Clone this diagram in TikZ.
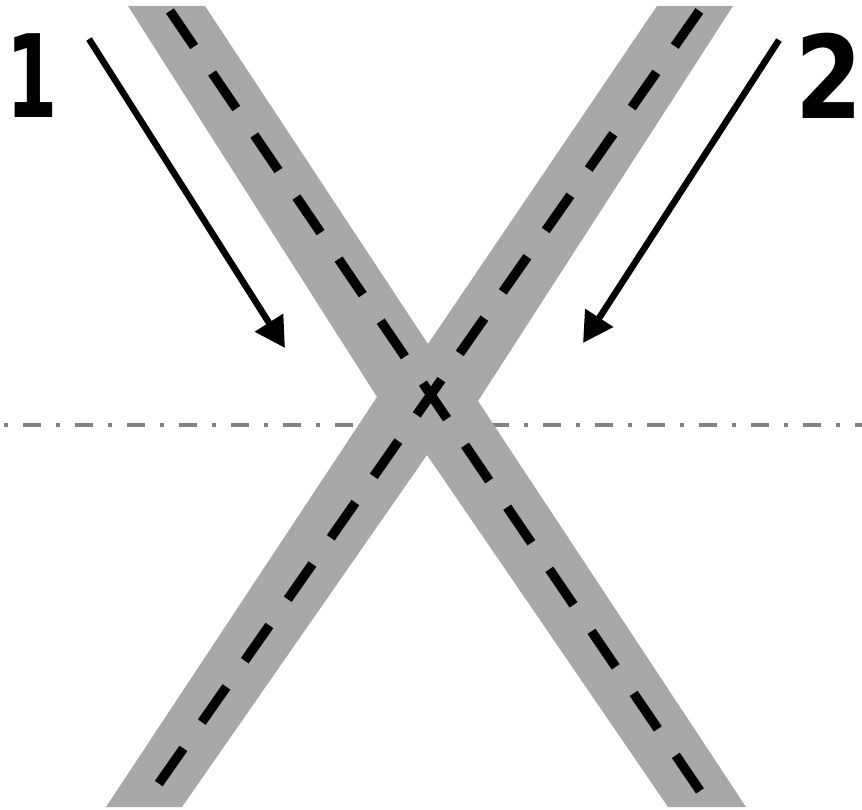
\documentclass[tikz,border=0pt]{standalone}
\usepackage{fontspec}
\newfontfamily\labelfont{DejaVu Sans}
\usetikzlibrary{arrows.meta}
\definecolor{roadgray}{RGB}{168,168,168}
\definecolor{axisgray}{RGB}{128,128,128}
\begin{document}
\begin{tikzpicture}[x=1pt,y=-1pt,
  road/.style={fill=roadgray, draw=none},
  lanemark/.style={line width=9.5pt, dash pattern=on 43pt off 32pt, dash phase=69pt},
  axisline/.style={axisgray, line width=3.3pt, dash pattern=on 17.5pt off 15.5pt on 3.5pt off 15.5pt, dash phase=28.6pt},
  dirarrow/.style={line width=6.5pt, -{Triangle[length=30pt,width=32pt]}},
  lbl/.style={font=\labelfont\bfseries\fontsize{115}{115}\selectfont, inner sep=0pt}]
\useasboundingbox (0,0) rectangle (862,810);
\fill[white] (0,0) rectangle (862,810);
% horizontal axis
\coordinate (axisL) at (0,425);
\coordinate (axisR) at (862,425);
\draw[axisline] (axisL) -- (axisR);
% the two crossing roads (X shape)
\coordinate (ulA) at (128,6);
\coordinate (ulB) at (205,6);
\coordinate (notchT) at (428,344);
\coordinate (urA) at (657,6);
\coordinate (urB) at (733,6);
\coordinate (notchR) at (478,401);
\coordinate (lrA) at (746,807);
\coordinate (lrB) at (668,807);
\coordinate (notchB) at (427,455);
\coordinate (llA) at (182,807);
\coordinate (llB) at (106,807);
\coordinate (notchL) at (377,397);
\fill[road] (ulA) -- (ulB) -- (notchT) -- (urA) -- (urB) -- (notchR)
  -- (lrA) -- (lrB) -- (notchB) -- (llA) -- (llB) -- (notchL) -- cycle;
% centre lines
\coordinate (c1t) at (166.6,6);
\coordinate (c1b) at (710.9,807);
\coordinate (c2t) at (702.8,6);
\coordinate (c2b) at (142.4,807);
\draw[lanemark] (c1t) -- (c1b);
\draw[lanemark] (c2t) -- (c2b);
% direction arrows
\coordinate (a1s) at (89,39);
\coordinate (a1e) at (285,348);
\coordinate (a2s) at (779,40);
\coordinate (a2e) at (583,343);
\draw[dirarrow] (a1s) -- (a1e);
\draw[dirarrow] (a2s) -- (a2e);
% labels
\node[lbl] (one) at (32,76) {\scalebox{0.64}[1]{1}};
\node[lbl] (two) at (829,76) {\scalebox{0.84}[1]{2}};
\end{tikzpicture}
\end{document}
